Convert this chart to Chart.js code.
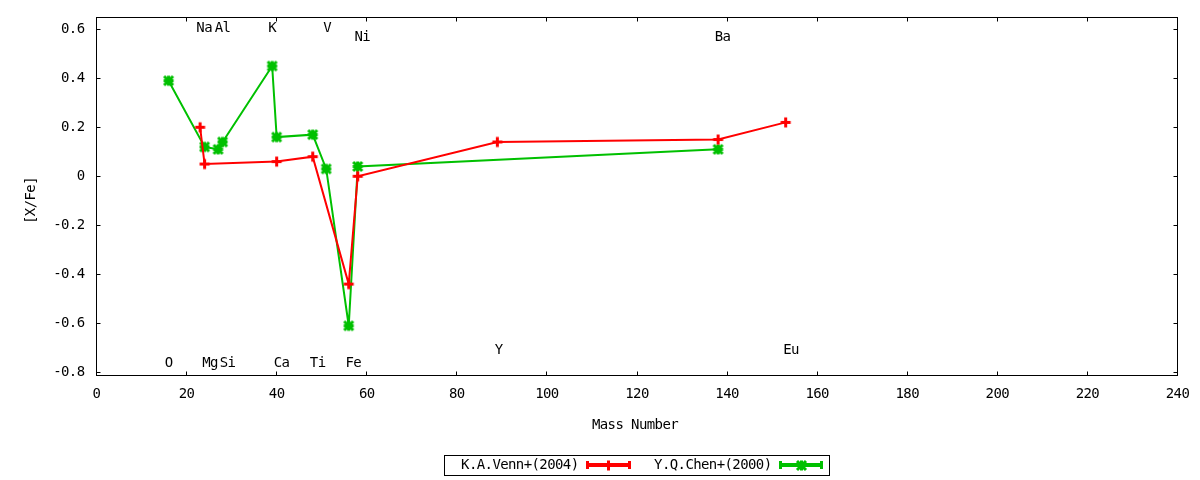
<!DOCTYPE html>
<html><head><meta charset="utf-8">
<script src="https://cdn.jsdelivr.net/npm/chart.js@4/dist/chart.umd.min.js"></script>
<style>html,body{margin:0;padding:0;background:#fff;} canvas{display:block;}</style>
</head><body>
<canvas id="c" width="1200" height="480"></canvas>
<script>
// ---- data ----
const seriesNames = ['K.A.Venn+(2004)', 'Y.Q.Chen+(2000)'];
const vennMass = [23, 24, 40, 48, 56, 58, 89, 138, 153];
const vennXFe  = [0.20, 0.05, 0.06, 0.08, -0.44, 0.00, 0.14, 0.15, 0.22];
const chenMass = [16, 24, 27, 28, 39, 40, 48, 51, 56, 58, 138];
const chenXFe  = [0.39, 0.12, 0.11, 0.14, 0.45, 0.16, 0.17, 0.03, -0.61, 0.04, 0.11];
const elementNames  = ['O', 'Na', 'Mg', 'Al', 'Si', 'K', 'Ca', 'Ti', 'V', 'Fe', 'Ni', 'Y', 'Ba', 'Eu'];
const elementLabelX = [16, 23.9, 25.2, 28.0, 29.1, 39, 41.1, 49.1, 51.2, 57.0, 59.0, 89.3, 139.0, 154.2];
const elementLabelY = [-0.763, 0.605, -0.763, 0.605, -0.763, 0.605, -0.763, -0.763, 0.605, -0.763, 0.567, -0.709, 0.567, -0.709];
const xTickValues = [0, 20, 40, 60, 80, 100, 120, 140, 160, 180, 200, 220, 240];
const yTickValues = [-0.8, -0.6, -0.4, -0.2, 0, 0.2, 0.4, 0.6];
const xTitle = 'Mass Number';
const yTitle = '[X/Fe]';

const FONT = "'DejaVu Sans Mono', monospace";
const FSIZE = 14;
const LSP = '-0.6px';
Chart.defaults.font.family = FONT;
Chart.defaults.font.size = FSIZE;
Chart.defaults.color = '#000';

const RED = '#ff0000', GREEN = '#00c000';

function makeMarker(color, withX) {
  const c = document.createElement('canvas');
  c.width = 13; c.height = 13;
  const g = c.getContext('2d');
  g.strokeStyle = color;
  g.lineWidth = 3;
  g.lineCap = 'butt';
  g.beginPath();
  g.moveTo(1.5, 6.5); g.lineTo(11.5, 6.5);
  g.moveTo(6.5, 1.5); g.lineTo(6.5, 11.5);
  if (withX) {
    g.moveTo(2, 2); g.lineTo(11, 11);
    g.moveTo(11, 2); g.lineTo(2, 11);
  }
  g.stroke();
  return c;
}
const redMarker = makeMarker(RED, false);
const greenMarker = makeMarker(GREEN, true);

function noScalePadding(s) {
  s.paddingTop = 0; s.paddingBottom = 0; s.paddingLeft = 0; s.paddingRight = 0;
}

const decorPlugin = {
  id: 'decor',
  beforeLayout(chart) { chart.ctx.letterSpacing = LSP; },
  beforeDraw(chart) { chart.ctx.letterSpacing = LSP; },
  afterDraw(chart) {
    const ctx = chart.ctx;
    const a = chart.chartArea;
    const xs = chart.scales.x, ys = chart.scales.y;
    ctx.save();
    ctx.letterSpacing = LSP;
    // frame
    ctx.strokeStyle = '#000';
    ctx.lineWidth = 1;
    ctx.strokeRect(a.left, a.top, a.right - a.left, a.bottom - a.top);
    // inward ticks, mirrored
    ctx.beginPath();
    xs.ticks.forEach(t => {
      const px = Math.round(xs.getPixelForValue(t.value) - 0.5) + 0.5;
      ctx.moveTo(px, a.bottom); ctx.lineTo(px, a.bottom - 4);
      ctx.moveTo(px, a.top); ctx.lineTo(px, a.top + 4);
    });
    ys.ticks.forEach(t => {
      const py = Math.round(ys.getPixelForValue(t.value) - 0.5) + 0.5;
      ctx.moveTo(a.left, py); ctx.lineTo(a.left + 4, py);
      ctx.moveTo(a.right, py); ctx.lineTo(a.right - 4, py);
    });
    ctx.stroke();
    // element labels
    ctx.fillStyle = '#000';
    ctx.font = FSIZE + 'px ' + FONT;
    ctx.textAlign = 'center';
    ctx.textBaseline = 'middle';
    elementNames.forEach((n, i) => {
      ctx.fillText(n, xs.getPixelForValue(elementLabelX[i]), ys.getPixelForValue(elementLabelY[i]));
    });
    // axis titles
    ctx.fillText(xTitle, (a.left + a.right) / 2 - 2, 425);
    ctx.save();
    ctx.translate(31, (a.top + a.bottom) / 2 + 4);
    ctx.rotate(-Math.PI / 2);
    ctx.fillText(yTitle, 0, 0);
    ctx.restore();
    // legend
    const cx = (a.left + a.right) / 2;
    const bx = Math.round(cx - 193) + 0.5, by = 455.5, bw = 385, bh = 20;
    ctx.strokeStyle = '#000';
    ctx.lineWidth = 1;
    ctx.strokeRect(bx, by, bw, bh);
    const ly = 465;
    const entries = [
      {textEnd: bx + 134, s0: bx + 142, s1: bx + 186},
      {textEnd: bx + 327, s0: bx + 335, s1: bx + 378}
    ];
    ctx.textAlign = 'right';
    chart.data.datasets.forEach((ds, i) => {
      const e = entries[i];
      ctx.fillStyle = '#000';
      ctx.fillText(ds.label, e.textEnd, ly);
      ctx.strokeStyle = ds.borderColor;
      ctx.lineWidth = 4;
      ctx.beginPath();
      ctx.moveTo(e.s0, ly); ctx.lineTo(e.s1, ly);
      ctx.stroke();
      ctx.lineWidth = 3;
      ctx.beginPath();
      ctx.moveTo(e.s0 + 1, ly - 4); ctx.lineTo(e.s0 + 1, ly + 4);
      ctx.moveTo(e.s1 - 1, ly - 4); ctx.lineTo(e.s1 - 1, ly + 4);
      ctx.stroke();
      const m = ds.pointStyle;
      ctx.drawImage(m, Math.round((e.s0 + e.s1) / 2 - m.width / 2), Math.round(ly - m.height / 2));
    });
    ctx.restore();
  }
};

new Chart(document.getElementById('c'), {
  type: 'scatter',
  data: {
    datasets: [
      {
        label: seriesNames[0],
        data: vennMass.map((m, i) => ({x: m, y: vennXFe[i]})),
        showLine: true,
        borderColor: RED, backgroundColor: RED,
        borderWidth: 2,
        pointStyle: redMarker, pointRadius: 6, pointHoverRadius: 6
      },
      {
        label: seriesNames[1],
        data: chenMass.map((m, i) => ({x: m, y: chenXFe[i]})),
        showLine: true,
        borderColor: GREEN, backgroundColor: GREEN,
        borderWidth: 2,
        pointStyle: greenMarker, pointRadius: 6, pointHoverRadius: 6
      }
    ]
  },
  options: {
    responsive: false,
    animation: false,
    devicePixelRatio: 1,
    events: [],
    layout: {padding: {top: 17.5, right: 22.5, left: 0, bottom: 0}},
    plugins: {legend: {display: false}, tooltip: {enabled: false}},
    scales: {
      x: {
        type: 'linear', min: 0, max: 240,
        afterBuildTicks: s => { s.ticks = xTickValues.map(v => ({value: v})); },
        afterFit: s => { s.height = 104.5; noScalePadding(s); },
        grid: {display: false, drawTicks: false}, border: {display: false},
        ticks: {padding: 10, maxRotation: 0, autoSkip: false, callback: v => String(v)}
      },
      y: {
        type: 'linear', min: -0.813, max: 0.648,
        afterBuildTicks: s => { s.ticks = yTickValues.map(v => ({value: v})); },
        afterFit: s => { s.width = 96.5; noScalePadding(s); },
        grid: {display: false, drawTicks: false}, border: {display: false},
        ticks: {padding: 12, autoSkip: false, callback: v => (Math.abs(v) < 1e-9 ? '0' : v.toFixed(1))}
      }
    }
  },
  plugins: [decorPlugin]
});
</script>
</body></html>
